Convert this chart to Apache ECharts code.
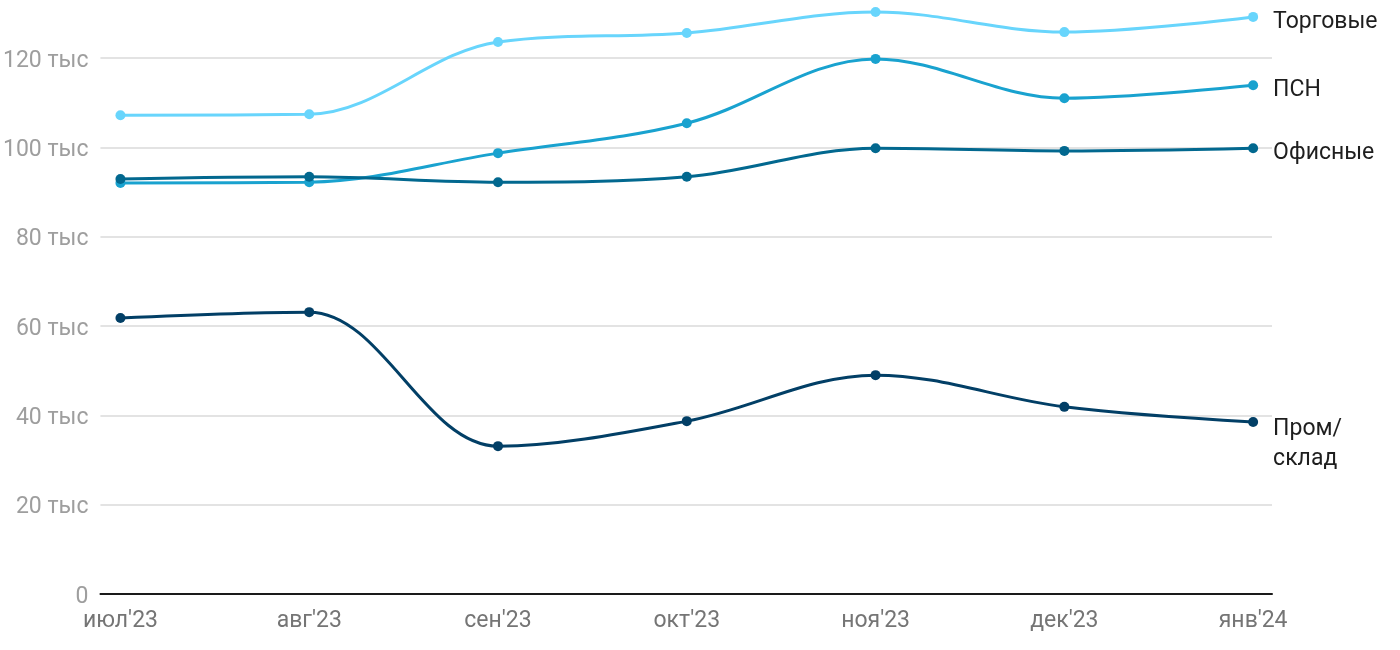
<!DOCTYPE html>
<html><head><meta charset="utf-8">
<script src="https://cdn.jsdelivr.net/npm/echarts@6/dist/echarts.min.js"></script>
<style>html,body{margin:0;padding:0;background:#fff}#c{width:1400px;height:650px}</style>
</head><body><div id="c"></div>
<script>
const categories = ["июл'23","авг'23","сен'23","окт'23","ноя'23","дек'23","янв'24"];
const yTicks = [0,20,40,60,80,100,120];
const torgovye = [107.2,107.4,123.6,125.6,130.3,125.8,129.2];
const psn = [92.0,92.2,98.7,105.4,119.8,111.0,113.9];
const ofisnye = [92.9,93.4,92.2,93.4,99.8,99.2,99.8];
const promsklad = [61.8,63.1,33.1,38.7,49.0,41.9,38.5];

const seriesDefs = [
  {name:'Торговые', data:torgovye, color:'#68d5fc'},
  {name:'ПСН', data:psn, color:'#19a2cf'},
  {name:'Офисные', data:ofisnye, color:'#02688f'},
  {name:'Пром/\nсклад', data:promsklad, color:'#023f66'}
];
const chart = echarts.init(document.getElementById('c'));
chart.setOption({
  animation:false,
  backgroundColor:'#fff',
  textStyle:{fontFamily:'Roboto'},
  grid:{left:100,right:128,top:58,bottom:56,containLabel:false},
  xAxis:{type:'value',min:-0.106,max:6.1,
    axisLine:{show:true,lineStyle:{color:'#1a1a1a',width:2}},
    axisTick:{show:false},splitLine:{show:false},
    axisLabel:{customValues:[0,1,2,3,4,5,6],formatter:v=>categories[Math.round(v)],color:'#757575',fontSize:23,margin:16,fontFamily:'Roboto'}
  },
  yAxis:{type:'value',min:0,max:120,interval:20,
    axisLine:{show:false},axisTick:{show:false},
    splitLine:{show:true,lineStyle:{color:'#e3e3e3',width:2}},
    axisLabel:{formatter:v=>'{v|'+(v===0?'0':v+' тыс')+'}',margin:12,
      rich:{v:{color:'#9e9e9e',fontSize:23,fontFamily:'Roboto',padding:[6,0,0,0]}}}
  },
  series:seriesDefs.map(s=>({
    name:s.name,type:'line',smooth:0.35,clip:false,
    data:s.data.map((v,i)=>[i,v]),
    symbol:'circle',symbolSize:10,showSymbol:true,
    lineStyle:{color:s.color,width:3},itemStyle:{color:s.color},
    endLabel:{show:true,formatter:'{a}',color:'#1e1e1e',fontSize:23,fontFamily:'Roboto',distance:20,lineHeight:30,
      verticalAlign:s.name.indexOf('\n')>=0?'top':'middle',offset:s.name.indexOf('\n')>=0?[0,-8]:[0,5]},
    emphasis:{disabled:true}
  }))
});
</script></body></html>
